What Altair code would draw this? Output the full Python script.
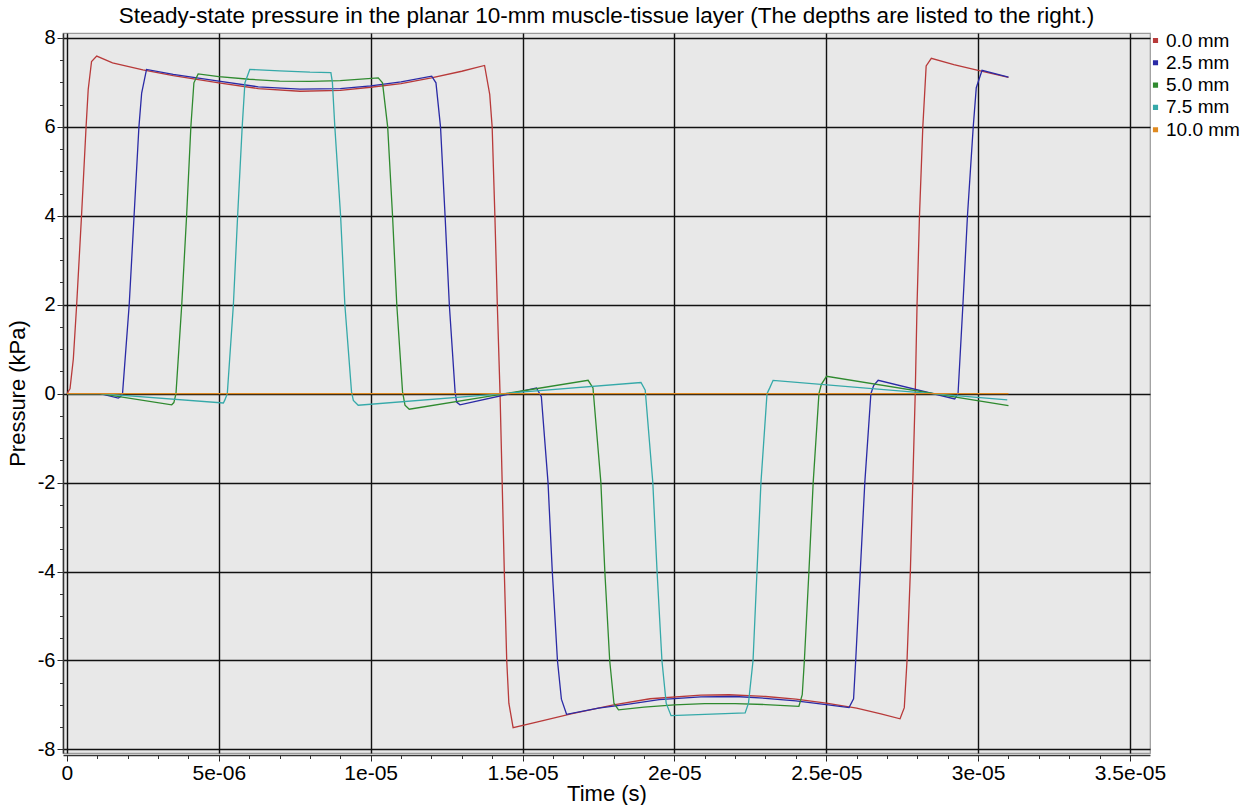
import altair as alt
import pandas as pd

# ---------------- data (time in microseconds, pressure in kPa) ----------------
depths = ["0.0 mm", "2.5 mm", "5.0 mm", "7.5 mm", "10.0 mm"]
colors = ["#b83a3a", "#2a2aa6", "#2f8a2f", "#35a9a9", "#e08a20"]

t_00 = [0.0, 0.10, 0.21, 0.32, 0.48, 0.63, 0.70, 0.81, 0.98, 1.5, 2.5, 3.5, 5.0, 6.3, 7.67, 9.0, 10.0,
        11.0, 12.0, 13.0, 13.75, 13.92, 14.00, 14.09, 14.17, 14.26, 14.33, 14.40, 14.48, 14.55, 14.69,
        15.5, 16.6, 18.0, 19.2, 20.87, 21.8, 23.0, 24.0, 25.0, 26.0, 26.8, 27.43, 27.57, 27.66, 27.77,
        27.85, 27.93, 27.99, 28.07, 28.18, 28.29, 28.46, 29.2, 30.0, 31.0]
p_00 = [0.0, 0.11, 0.78, 2.0, 4.0, 6.0, 6.84, 7.47, 7.59, 7.44, 7.28, 7.15, 6.99, 6.86, 6.80, 6.82, 6.89,
        6.97, 7.10, 7.25, 7.38, 6.73, 6.0, 4.0, 2.0, 0.0, -2.0, -4.0, -6.0, -6.96, -7.51,
        -7.38, -7.20, -7.00, -6.86, -6.78, -6.77, -6.81, -6.87, -6.96, -7.07, -7.20, -7.31, -7.06, -6.0, -4.0,
        -2.0, 0.0, 2.0, 4.0, 6.0, 7.37, 7.54, 7.40, 7.27, 7.11]

t_25 = [0.0, 1.09, 1.69, 1.76, 1.83, 2.05, 2.21, 2.37, 2.46, 2.62, 3.5, 5.0, 6.3, 7.67, 9.0, 10.0, 11.0,
        12.01, 12.15, 12.30, 12.45, 12.59, 12.78, 12.83, 12.94, 15.46, 15.62, 15.84, 15.98, 16.15, 16.28,
        16.45, 17.5, 18.5, 19.5, 20.87, 22.0, 23.0, 24.0, 25.0, 25.75, 25.90, 25.97, 26.12, 26.27, 26.47,
        26.56, 26.71, 29.23, 29.34, 29.50, 29.65, 29.84, 29.94, 30.13, 31.0]
p_25 = [0.0, 0.0, -0.10, -0.07, 0.0, 2.0, 4.0, 6.0, 6.76, 7.29, 7.18, 7.03, 6.90, 6.85, 6.86, 6.92, 7.01,
        7.14, 6.99, 6.0, 4.0, 2.0, 0.04, -0.19, -0.25, 0.13, -0.07, -2.0, -4.0, -6.0, -6.87,
        -7.21, -7.07, -6.98, -6.88, -6.82, -6.81, -6.85, -6.91, -6.99, -7.06, -6.86, -6.0, -4.0, -2.0, 0.0,
        0.18, 0.30, -0.12, 0.0, 2.0, 4.0, 6.0, 6.88, 7.27, 7.12]

t_50 = [0.0, 1.09, 3.45, 3.52, 3.59, 3.78, 3.94, 4.08, 4.18, 4.32, 5.0, 6.0, 7.0, 8.0, 9.0, 10.25, 10.39,
        10.56, 10.72, 10.86, 11.05, 11.13, 11.27, 17.16, 17.32, 17.58, 17.71, 17.87, 18.01, 18.16, 19.0,
        20.0, 21.0, 22.0, 23.0, 24.1, 24.21, 24.28, 24.43, 24.57, 24.76, 24.84, 25.01, 31.0]
p_50 = [0.0, 0.0, -0.25, -0.20, 0.0, 2.0, 4.0, 6.0, 6.99, 7.19, 7.13, 7.07, 7.03, 7.02, 7.04, 7.10, 6.99,
        6.0, 4.0, 2.0, 0.04, -0.26, -0.35, 0.30, 0.13, -2.0, -4.0, -6.0, -6.96, -7.11, -7.05,
        -7.0, -6.97, -6.97, -6.99, -7.03, -6.77, -6.0, -4.0, -2.0, 0.0, 0.21, 0.39, -0.27]

t_75 = [0.0, 1.09, 5.15, 5.20, 5.28, 5.48, 5.62, 5.77, 5.86, 6.02, 7.0, 8.0, 8.69, 8.74, 8.82, 9.01, 9.15,
        9.37, 9.43, 9.59, 18.90, 19.04, 19.29, 19.43, 19.59, 19.73, 19.89, 21.0, 22.33, 22.44, 22.59,
        22.72, 22.85, 23.05, 23.14, 23.25, 30.96]
p_75 = [0.0, 0.0, -0.21, -0.14, 0.0, 2.0, 4.0, 6.0, 6.99, 7.29, 7.26, 7.23, 7.22, 7.0, 6.0, 4.0, 2.0,
        0.04, -0.15, -0.26, 0.25, 0.08, -2.0, -4.0, -6.0, -6.96, -7.24, -7.21, -7.18, -6.96, -6.0,
        -4.0, -2.0, 0.0, 0.13, 0.30, -0.14]

t_100 = [0.0, 31.0]
p_100 = [0.0, 0.0]

x_ticks = [0, 5, 10, 15, 20, 25, 30, 35]
y_ticks = [-8, -6, -4, -2, 0, 2, 4, 6, 8]
x_minor = list(range(0, 36))
y_minor = [v / 2 for v in range(-16, 17)]

title_text = "Steady-state pressure in the planar 10-mm muscle-tissue layer (The depths are listed to the right.)"

# ---------------- table ----------------
rows = []
for name, ts, ps in zip(depths, [t_00, t_25, t_50, t_75, t_100], [p_00, p_25, p_50, p_75, p_100]):
    for i, (t, p) in enumerate(zip(ts, ps)):
        rows.append({"depth": name, "t": t, "p": p, "i": i})
df = pd.DataFrame(rows)

FONT = "Liberation Sans"
x_scale = alt.Scale(domain=[-0.13, 35.66], nice=False, zero=False)
y_scale = alt.Scale(domain=[-8.08, 8.11], nice=False, zero=False)

x_label_expr = ("datum.value == 0 ? '0' : (datum.value < 10 ? datum.value + 'e-06' : "
                "(datum.value / 10) + 'e-05')")
y_label_expr = "'' + datum.value"

lines = alt.Chart(df).mark_line(strokeWidth=1.3, clip=True).encode(
    x=alt.X("t:Q", scale=x_scale,
            axis=alt.Axis(values=x_ticks, labelExpr=x_label_expr, title="Time (s)",
                          grid=True, gridColor="#111111", gridWidth=1.4, gridOpacity=1,
                          tickSize=6, tickColor="#222222", domainColor="#333333", domainWidth=1.5,
                          labelFont=FONT, labelFontSize=21, labelColor="black", labelPadding=1,
                          titleFont=FONT, titleFontSize=22, titleFontWeight="normal",
                          titleColor="black", titlePadding=0, offset=2, labelFlush=False)),
    y=alt.Y("p:Q", scale=y_scale,
            axis=alt.Axis(values=y_ticks, labelExpr=y_label_expr, title="Pressure (kPa)",
                          grid=True, gridColor="#111111", gridWidth=1.4, gridOpacity=1,
                          tickSize=6, tickColor="#222222", domainColor="#333333", domainWidth=1.5,
                          labelFont=FONT, labelFontSize=20, labelColor="black", labelPadding=2,
                          titleFont=FONT, titleFontSize=22, titleFontWeight="normal",
                          titleColor="black", titlePadding=8, labelFlush=False)),
    color=alt.Color("depth:N", scale=alt.Scale(domain=depths, range=colors),
                    legend=alt.Legend(title=None, orient="none", legendX=1083, legendY=-2,
                                      symbolType="square", symbolSize=7, symbolStrokeWidth=2.5,
                                      labelFont=FONT, labelFontSize=19, labelColor="black",
                                      labelOffset=1, rowPadding=2.3, padding=0)),
    order="i:Q",
)

minor = alt.Chart(df).mark_point(opacity=0).encode(
    x=alt.X("t:Q", scale=x_scale,
            axis=alt.Axis(orient="bottom", values=x_minor, labels=False, tickSize=3.5,
                          tickColor="#333333", grid=False, domain=False, title=None, offset=2)),
    y=alt.Y("p:Q", scale=y_scale,
            axis=alt.Axis(orient="left", values=y_minor, labels=False, tickSize=3.5,
                          tickColor="#333333", grid=False, domain=False, title=None)),
)

chart = alt.layer(lines, minor).resolve_axis(x="independent", y="independent").properties(
    width=1087, height=720,
    title=alt.TitleParams(title_text, font=FONT, fontSize=22.5, fontWeight="normal", color="black",
                          anchor="middle", offset=0),
    autosize=alt.AutoSizeParams(type="none"),
    padding={"left": 63, "top": 33, "right": 100, "bottom": 52},
).configure_view(fill="#e8e8e8", stroke="#9a9a9a", strokeWidth=1.2)

chart.save("out.html", embed_options={"renderer": "svg", "actions": False})
